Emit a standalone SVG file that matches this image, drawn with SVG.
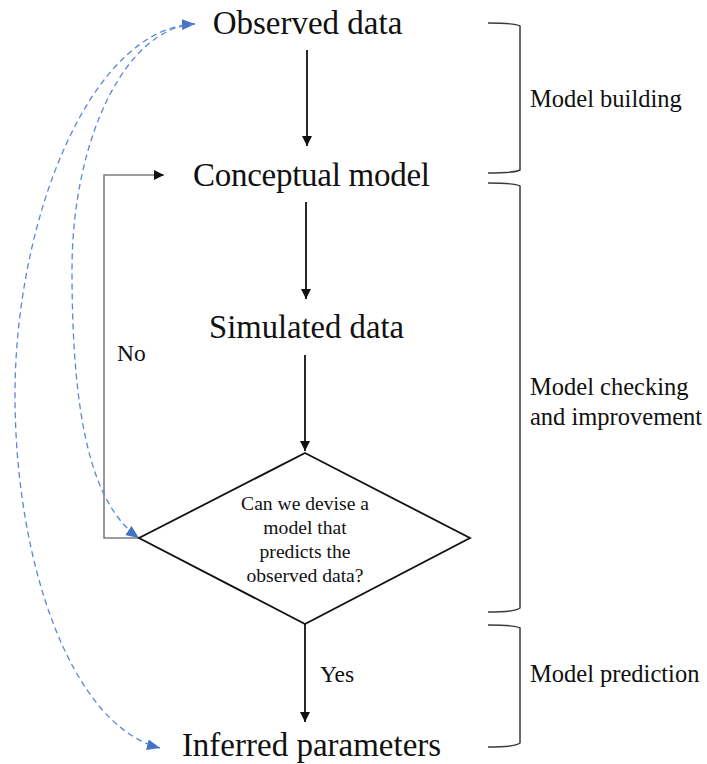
<svg xmlns="http://www.w3.org/2000/svg" width="707" height="764" viewBox="0 0 707 764">
  <style>
    text { font-family: "Liberation Serif", "Times New Roman", serif; fill: #111; }
    .node { font-size: 33px; }
    .q { font-size: 19.6px; text-anchor: middle; }
    .lbl { font-size: 23.5px; }
    .side { font-size: 24.5px; }
    .flow { stroke: #111; stroke-width: 1.8; fill: none; }
    .back { stroke: #7f7f7f; stroke-width: 1.6; fill: none; }
    .link { stroke: #5a87d6; stroke-width: 1.3; fill: none; stroke-dasharray: 6 4; }
    .brace { stroke: #3a3a3a; stroke-width: 1.5; fill: none; }
  </style>
  <defs>
    <marker id="arrow" viewBox="0 0 10 10" refX="10" refY="5" markerWidth="10" markerHeight="10" markerUnits="userSpaceOnUse" orient="auto">
      <path d="M0,0 L10,5 L0,10 Z" fill="#111"/>
    </marker>
    <marker id="arrowBlue" viewBox="0 0 12 10" refX="12" refY="5" markerWidth="13" markerHeight="11" markerUnits="userSpaceOnUse" orient="auto-start-reverse">
      <path d="M0,0 L12,5 L0,10 Z" fill="#4472c4"/>
    </marker>
  </defs>

  <!-- connectors -->
  <g id="connectors">
    <line class="flow" x1="307" y1="50" x2="307" y2="146" marker-end="url(#arrow)"/>
    <line class="flow" x1="306" y1="202" x2="306" y2="299" marker-end="url(#arrow)"/>
    <line class="flow" x1="305" y1="355" x2="305" y2="451" marker-end="url(#arrow)"/>
    <line class="flow" x1="305" y1="624" x2="305" y2="722" marker-end="url(#arrow)"/>
    <!-- "No" loop back to the conceptual model -->
    <polyline class="back" points="139,538 104,538 104,175 164,175" marker-end="url(#arrow)"/>
    <!-- dashed links from observed data -->
    <path class="link" d="M195,24 C90,28 15,220 15,395 C15,560 70,725 160,748" marker-start="url(#arrowBlue)" marker-end="url(#arrowBlue)"/>
    <path class="link" d="M195,24 C125,28 72,140 72,270 C72,420 92,505 139,538" marker-end="url(#arrowBlue)"/>
  </g>

  <g id="observed">
    <text class="node" x="307.5" y="34" text-anchor="middle">Observed data</text>
  </g>
  <g id="conceptual">
    <text class="node" x="193" y="186" textLength="237" lengthAdjust="spacing">Conceptual model</text>
  </g>
  <g id="simulated">
    <text class="node" x="209" y="338" textLength="195" lengthAdjust="spacingAndGlyphs">Simulated data</text>
  </g>
  <g id="decision">
    <polygon points="305,453 470,538 305,624 139,538" fill="#fff" stroke="#111" stroke-width="1.8"/>
    <text class="q" x="305" y="510">Can we devise a</text>
    <text class="q" x="305" y="534">model that</text>
    <text class="q" x="305" y="558">predicts the</text>
    <text class="q" x="305" y="582">observed data?</text>
  </g>
  <g id="inferred">
    <text class="node" x="311.5" y="756" text-anchor="middle">Inferred parameters</text>
  </g>

  <g id="edge-labels">
    <text class="lbl" x="117" y="361">No</text>
    <text class="lbl" x="320" y="682">Yes</text>
  </g>

  <!-- stage brackets -->
  <g id="stage-building">
    <path class="brace" d="M488,23 Q515,23 520,26 V170 Q515,173 488,173"/>
    <text class="side" x="530" y="107">Model building</text>
  </g>
  <g id="stage-checking">
    <path class="brace" d="M488,183 Q515,183 520,186 V608 Q515,612 488,612"/>
    <text class="side" x="530" y="395">Model checking</text>
    <text class="side" x="530" y="425">and improvement</text>
  </g>
  <g id="stage-prediction">
    <path class="brace" d="M488,625 Q515,625 520,628 V743 Q515,747 488,747"/>
    <text class="side" x="530" y="682">Model prediction</text>
  </g>
</svg>
